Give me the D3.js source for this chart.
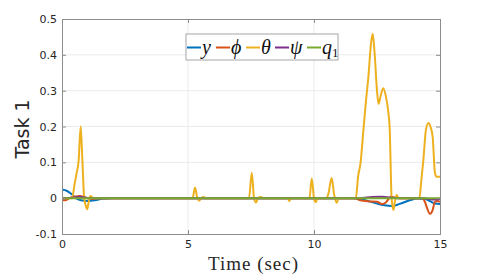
<!DOCTYPE html>
<html><head><meta charset="utf-8">
<script src="https://cdn.jsdelivr.net/npm/d3@7"></script>
<style>body{margin:0;background:#fff}svg{display:block}</style>
</head><body>
<script>
// ---- data ----
const xTicks = [0, 5, 10, 15];
const yTicks = [-0.1, 0, 0.1, 0.2, 0.3, 0.4, 0.5];
const yTickLabels = ["-0.1", "0", "0.1", "0.2", "0.3", "0.4", "0.5"];
const seriesNames = ["y", "ϕ", "θ", "ψ", "q"];

const yT = [0, 0.2, 0.4, 0.55, 0.75, 1.0, 1.3, 1.6, 2.0, 11.6, 12.0, 12.4, 12.8, 13.1, 13.4, 13.8, 14.1, 14.4, 14.6, 14.8, 15];
const yV = [0.024, 0.02, 0.01, 0, -0.006, -0.008, -0.006, -0.002, 0, 0, -0.005, -0.013, -0.02, -0.022, -0.016, -0.006, -0.001, -0.002, -0.008, -0.015, -0.016];

const phiT = [0, 0.1, 0.2, 0.35, 0.5, 0.7, 0.85, 1.0, 1.2, 1.5, 11.6, 11.8, 12.2, 12.5, 12.7, 12.85, 12.95, 13.05, 13.2, 13.4, 14.3, 14.4, 14.5, 14.6, 14.7, 14.8, 14.9, 15];
const phiV = [-0.003, -0.006, -0.004, 0.002, 0.004, 0.006, 0.004, 0, -0.002, 0, 0, -0.005, -0.009, -0.01, -0.016, -0.012, -0.003, 0.004, 0.002, 0, 0, -0.01, -0.03, -0.044, -0.035, -0.01, -0.008, -0.01];

const thetaT = [0, 0.4, 0.5, 0.58, 0.66, 0.74, 0.8, 0.88, 0.94, 1.0, 1.06, 1.12, 1.2, 1.3,
  5.18, 5.28, 5.37, 5.45, 5.53, 5.62, 5.7,
  7.42, 7.53, 7.62, 7.7, 7.78, 7.9, 8.0,
  8.95, 9.02, 9.09,
  9.82, 9.91, 10.0, 10.07, 10.14,
  10.5, 10.57, 10.7, 10.8, 10.9, 10.98,
  11.66, 11.75, 11.85, 11.96, 12.06, 12.16, 12.26, 12.33, 12.4, 12.5, 12.56, 12.66, 12.75, 12.85, 12.95, 13.0, 13.08, 13.15, 13.22, 13.28, 13.36,
  14.18, 14.26, 14.34, 14.44, 14.54, 14.62, 14.71, 14.8, 14.86, 15];
const thetaV = [0, 0, 0.04, 0.07, 0.105, 0.2, 0.12, 0, -0.02, -0.031, -0.01, 0.006, 0.002, 0,
  0, 0.03, 0, -0.007, 0, 0.003, 0,
  0, 0.071, 0, -0.012, 0, 0.003, 0,
  0, -0.008, 0,
  0, 0.055, 0, -0.011, 0,
  0, 0.012, 0.056, 0.01, -0.013, 0,
  0, 0.06, 0.1, 0.19, 0.27, 0.34, 0.43, 0.459, 0.41, 0.3, 0.263, 0.29, 0.307, 0.285, 0.24, 0.2, 0, -0.033, -0.005, 0.009, 0,
  0, 0.05, 0.107, 0.19, 0.21, 0.2, 0.17, 0.07, 0.06, 0.06];

const psiT = [0, 0.5, 0.7, 0.9, 1.2, 11.8, 12.3, 12.7, 13.0, 13.3, 14.4, 14.6, 14.8, 15];
const psiV = [0, 0.002, 0.004, 0.002, 0, 0, 0.003, 0.004, 0.002, 0, 0, -0.003, -0.004, -0.002];

const q1T = [0, 5, 10, 15];
const q1V = [0, 0, 0, 0];

// ---- layout ----
const W = 486, H = 277;
const m = {left: 62, right: 46, top: 19, bottom: 43};
const colors = ["#0072BD", "#D95319", "#EDB120", "#7E2F8E", "#77AC30"];

const svg = d3.select("body").append("svg").attr("width", W).attr("height", H);
const x = d3.scaleLinear().domain([0, 15]).range([m.left, W - m.right]);
const y = d3.scaleLinear().domain([-0.1, 0.5]).range([H - m.bottom, m.top]);

// grid
const g = svg.append("g");
g.selectAll(".gx").data(xTicks.slice(1, -1)).enter().append("line")
  .attr("x1", d => x(d)).attr("x2", d => x(d)).attr("y1", y(-0.1)).attr("y2", y(0.5))
  .attr("stroke", "#ebebeb").attr("stroke-width", 1);
g.selectAll(".gy").data(yTicks.slice(1, -1)).enter().append("line")
  .attr("x1", x(0)).attr("x2", x(15)).attr("y1", d => y(d)).attr("y2", d => y(d))
  .attr("stroke", "#ebebeb").attr("stroke-width", 1);

// series
const series = [[yT, yV], [phiT, phiV], [thetaT, thetaV], [psiT, psiV], [q1T, q1V]];
const line = d3.line().x(d => x(d[0])).y(d => y(d[1])).curve(d3.curveMonotoneX);
svg.append("clipPath").attr("id", "clip").append("rect")
  .attr("x", x(0)).attr("y", y(0.5)).attr("width", x(15) - x(0)).attr("height", y(-0.1) - y(0.5));
const lg = svg.append("g").attr("clip-path", "url(#clip)");
series.forEach((s, i) => {
  const pts = s[0].map((t, j) => [t, s[1][j]]);
  lg.append("path").datum(pts).attr("d", line).attr("fill", "none")
    .attr("stroke", colors[i]).attr("stroke-width", 2).attr("stroke-linejoin", "round");
});

// axes
const axColor = "#8c8c8c";
const tickFont = "DejaVu Sans, sans-serif";
const axL = svg.append("g").attr("transform", `translate(${x(0)},0)`)
  .call(d3.axisLeft(y).tickValues(yTicks).tickSize(-4).tickPadding(5).tickFormat((d, i) => yTickLabels[i]));
const axR = svg.append("g").attr("transform", `translate(${x(15)},0)`)
  .call(d3.axisRight(y).tickValues(yTicks).tickSize(-4).tickFormat(""));
const axB = svg.append("g").attr("transform", `translate(0,${y(-0.1)})`)
  .call(d3.axisBottom(x).tickValues(xTicks).tickSize(-4).tickPadding(6).tickFormat(d3.format("d")));
const axT = svg.append("g").attr("transform", `translate(0,${y(0.5)})`)
  .call(d3.axisTop(x).tickValues(xTicks).tickSize(-4).tickFormat(""));
[axL, axR, axB, axT].forEach(a => {
  a.select(".domain").attr("stroke", axColor).attr("stroke-width", 1);
  a.selectAll(".tick line").attr("stroke", axColor);
  a.selectAll("text").attr("fill", "#262626").style("font-family", tickFont).style("font-size", "11px");
});

// labels
svg.append("text").attr("x", 253).attr("y", 270)
  .attr("text-anchor", "middle").style("font-family", "Liberation Serif, serif").style("font-size", "19px")
  .attr("textLength", 90).attr("lengthAdjust", "spacing")
  .attr("fill", "#262626").text("Time (sec)");
svg.append("text").attr("transform", `translate(29,129) rotate(-90)`)
  .attr("text-anchor", "middle").style("font-family", tickFont).style("font-size", "19px")
  .attr("fill", "#262626").text("Task 1");

// legend
const leg = svg.append("g").attr("transform", "translate(186,34)");
leg.append("rect").attr("x", 0).attr("y", 0).attr("width", 152).attr("height", 26)
  .attr("fill", "#fff").attr("stroke", "#a6a6a6").attr("stroke-width", 1);
const itemOff = [1, 30, 60, 89, 121];
seriesNames.forEach((n, i) => {
  const ox = itemOff[i];
  leg.append("line").attr("x1", ox).attr("x2", ox + 14).attr("y1", 13.5).attr("y2", 13.5)
    .attr("stroke", colors[i]).attr("stroke-width", 2);
  const t = leg.append("text").attr("x", ox + 15).attr("y", 19.5)
    .style("font-family", "Liberation Serif, serif").style("font-style", "italic").style("font-size", "20px")
    .attr("fill", "#111").text(n);
  if (i === 4) t.append("tspan").attr("dy", 3).style("font-style", "normal").style("font-size", "13px").text("1");
});
</script>
</body></html>
